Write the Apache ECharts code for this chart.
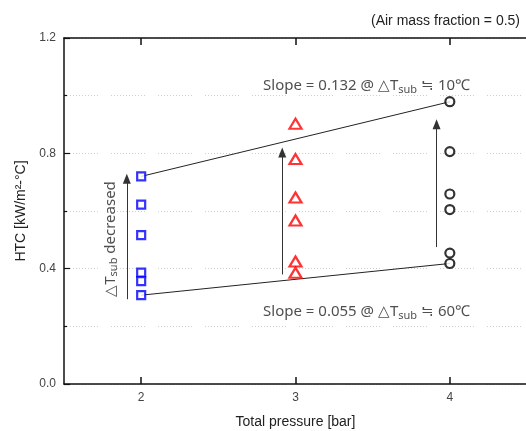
<!DOCTYPE html>
<html>
<head>
<meta charset="utf-8">
<script src="https://cdn.jsdelivr.net/npm/echarts@6/dist/echarts.min.js"></script>
<style>
html,body{margin:0;padding:0;background:#fff;}
#chart{width:526px;height:431px;}
</style>
</head>
<body>
<div id="chart"></div>
<script>
// pressure levels [bar]
var pressures = [2, 3, 4];
// HTC values, kW/m2-C
var htc2bar = [0.720, 0.622, 0.516, 0.386, 0.357, 0.308];
var htc3bar = [0.903, 0.780, 0.647, 0.567, 0.425, 0.386];
var htc4bar = [0.979, 0.806, 0.659, 0.605, 0.454, 0.418];
var yTicks = [0.0, 0.4, 0.8, 1.2];
// arrows: x, y start, y end
var arrowX = [1.907, 2.914, 3.914];
var arrowFrom = [0.294, 0.380, 0.475];
var arrowTo = [0.712, 0.803, 0.901];
var slopeTexts = ['0.132', '0.055'];
var slopeDT = ['10', '60'];

function htcChart(){
  var chart = echarts.init(document.getElementById('chart'));
  var dots = [];
  for (var i = 0; i < 12; i++) { dots.push(1, 2); }
  dots[dots.length - 1] = 13;
  var gridStyle = {color: '#cfcfcf', width: 1, type: dots};

  var maxOf = function(a){ return Math.max.apply(null, a); };
  var minOf = function(a){ return Math.min.apply(null, a); };
  var pts = function(x, arr){ return arr.map(function(v){ return [x, v]; }); };

  var arrows = arrowX.map(function(x, i){
    return [{coord: [x, arrowFrom[i]]}, {coord: [x, arrowTo[i]]}];
  });

  var textFont = '"Noto Sans", sans-serif';
  var rich = {
    a: {fontSize: 15, fontFamily: textFont, color: '#222'},
    s: {fontSize: 11, fontFamily: textFont, color: '#222', padding: [8, 0, 0, 0]}
  };
  var axisFont = '"Liberation Sans", Arial';

  var option = {
    animation: false,
    grid: {left: 64, right: -1, top: 38, bottom: 47, outerBoundsMode: 'none'},
    xAxis: [
      {
        type: 'value', min: 1.5, max: 4.5,
        name: 'Total pressure [bar]', nameLocation: 'middle', nameGap: 31,
        nameTextStyle: {fontSize: 14, color: '#222', fontFamily: axisFont},
        axisLine: {show: true, onZero: false, lineStyle: {color: '#111', width: 1.5}},
        axisTick: {show: true, inside: true, length: 7, customValues: pressures,
          lineStyle: {color: '#111', width: 1.5}},
        axisLabel: {fontSize: 12, color: '#444', margin: 8, fontFamily: axisFont,
          customValues: pressures},
        splitLine: {show: false}
      },
      {
        type: 'value', min: 1.5, max: 4.5, position: 'top',
        axisLine: {show: true, onZero: false, lineStyle: {color: '#111', width: 1.5}},
        axisTick: {show: true, inside: true, length: 7, customValues: pressures,
          lineStyle: {color: '#111', width: 1.5}},
        axisLabel: {show: false},
        splitLine: {show: false}
      }
    ],
    yAxis: {
      type: 'value', min: 0, max: 1.2, interval: 0.4,
      name: 'HTC [kW/m\u00B2-\u00B0C]', nameLocation: 'middle', nameGap: 34,
      nameTextStyle: {fontSize: 14, color: '#222', fontFamily: axisFont},
      axisLine: {show: true, onZero: false, lineStyle: {color: '#111', width: 1.5}},
      axisTick: {show: true, inside: true, length: 6, lineStyle: {color: '#111', width: 1.2}},
      minorTick: {show: true, splitNumber: 2, length: 3, lineStyle: {color: '#111', width: 1.2}},
      axisLabel: {fontSize: 12, color: '#444', margin: 8, fontFamily: axisFont,
        formatter: function(v){ return v.toFixed(1); }},
      splitLine: {show: true, lineStyle: gridStyle},
      minorSplitLine: {show: true, lineStyle: gridStyle}
    },
    series: [
      {
        type: 'line', symbol: 'none', z: 3,
        lineStyle: {color: '#222', width: 1},
        data: [[pressures[0], maxOf(htc2bar)], [pressures[2], maxOf(htc4bar)]],
        markLine: {
          silent: true, symbol: ['none', 'triangle'], symbolSize: [8, 10],
          lineStyle: {color: '#333', width: 1, type: 'solid'},
          itemStyle: {color: '#000'},
          label: {show: false},
          data: arrows
        }
      },
      {
        type: 'line', symbol: 'none', z: 3,
        lineStyle: {color: '#222', width: 1},
        data: [[pressures[0], minOf(htc2bar)], [pressures[2], minOf(htc4bar)]]
      },
      {
        type: 'scatter', symbol: 'rect', symbolSize: 8, z: 5,
        itemStyle: {color: '#fff', borderColor: '#0000ff', borderWidth: 2.2},
        data: pts(pressures[0], htc2bar)
      },
      {
        type: 'scatter', symbol: 'triangle', symbolSize: [12, 10], z: 5,
        itemStyle: {color: '#fff', borderColor: '#ff0000', borderWidth: 2.2},
        data: pts(pressures[1], htc3bar)
      },
      {
        type: 'scatter', symbol: 'circle', symbolSize: 9, z: 5,
        itemStyle: {color: '#fff', borderColor: '#000', borderWidth: 2.2},
        data: pts(pressures[2], htc4bar)
      },
      {
        type: 'scatter', symbolSize: 0, silent: true, z: 6,
        label: {
          show: true, position: 'inside', align: 'left', verticalAlign: 'middle', rich: rich,
          formatter: function(p){
            return '{a|Slope = ' + slopeTexts[p.dataIndex] + ' @ \u25B3T}{s|sub}{a| \u2252 ' + slopeDT[p.dataIndex] + '\u2103}';
          }
        },
        data: [[2.79, 1.034], [2.79, 0.25]]
      },
      {
        type: 'scatter', symbolSize: 0, silent: true, z: 6,
        label: {
          show: true, position: 'inside', rotate: 90, align: 'center', verticalAlign: 'middle', rich: rich,
          formatter: '{a|\u25B3T}{s|sub}{a| decreased}'
        },
        data: [[1.80, 0.503]]
      }
    ],
    graphic: [{
      type: 'text', right: 6, top: 14,
      style: {text: '(Air mass fraction = 0.5)', fontSize: 14, fill: '#222', fontFamily: axisFont}
    }]
  };
  chart.setOption(option);
}
htcChart();
</script>
</body>
</html>
